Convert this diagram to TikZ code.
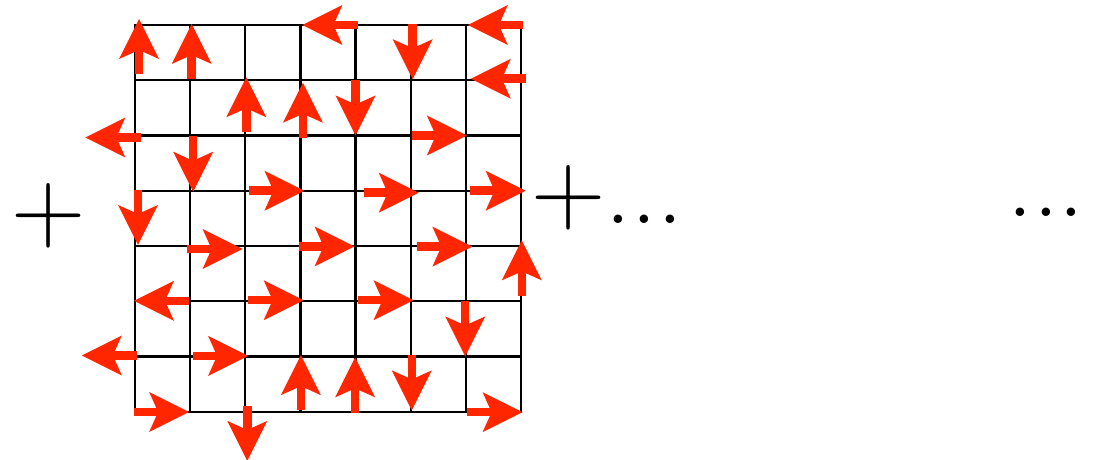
\documentclass[tikz,border=0pt]{standalone}
\usetikzlibrary{arrows.meta,calc}
\definecolor{spinred}{RGB}{255,38,0}
\newcommand\spinarrow[4]{\draw[spin] ($(#1)+(#3,#4)$) -- ($(#2)+(#3,#4)$);}
\begin{document}
\begin{tikzpicture}[x=1pt,y=-1pt,
  gridline/.style={line width=2.2pt, black, line cap=rect},
  spin/.style={line width=8.5pt, spinred, -{Stealth[length=40pt,width=40pt,inset=9pt,line width=0pt]}},
  bigtext/.style={inner sep=0pt, font=\fontsize{103}{110}\selectfont}]
\useasboundingbox (0,0) rectangle (1102,460);
% lattice vertices: columns A..I, rows 0..8
\foreach \c [count=\i from -1] in {A,B,C,D,E,F,G,H,I} {
  \foreach \j in {0,...,8} {
    \coordinate (\c\j) at ({135+55.14*\i},{25+55.24*\j});
  }
}
% grid
\foreach \c in {B,C,D,E,F,G,H,I} \draw[gridline] (\c0) -- (\c7);
\foreach \j in {0,...,7} \draw[gridline] (B\j) -- (I\j);
% spins
\spinarrow{B1}{B0}{4}{-6}
\spinarrow{C1}{C0}{1.5}{-1}
\spinarrow{F0}{E0}{2}{0}
\spinarrow{G0}{G1}{2}{-1}
\spinarrow{I0}{H0}{2}{0}
\spinarrow{I1}{H1}{5}{-1.5}
\spinarrow{D2}{D1}{1}{-3}
\spinarrow{E2}{E1}{2.5}{2.5}
\spinarrow{F1}{F2}{0}{0}
\spinarrow{B2}{A2}{5.5}{2}
\spinarrow{C2}{C3}{3}{1}
\spinarrow{G2}{H2}{1}{0}
\spinarrow{D3}{E3}{4}{0}
\spinarrow{F3}{G3}{8}{2}
\spinarrow{H3}{I3}{4.6}{0}
\spinarrow{B3}{B4}{3}{-1}
\spinarrow{C4}{D4}{-2.7}{3}
\spinarrow{E4}{F4}{-1}{0.5}
\spinarrow{G4}{H4}{6.5}{0.7}
\spinarrow{I5}{I4}{0.8}{-5.6}
\spinarrow{C5}{B5}{-1}{-0.4}
\spinarrow{D5}{E5}{3.2}{-1}
\spinarrow{F5}{G5}{2.8}{-1}
\spinarrow{H5}{H6}{-0.6}{0}
\spinarrow{B6}{A6}{2}{-1}
\spinarrow{C6}{D6}{2.8}{-0.6}
\spinarrow{E7}{E6}{0.4}{-1.3}
\spinarrow{F7}{F6}{-0.4}{0.9}
\spinarrow{G6}{G7}{1.1}{-1.3}
\spinarrow{B7}{C7}{-1}{0.3}
\spinarrow{H7}{I7}{1.6}{0.5}
\spinarrow{D7}{D8}{2}{-6}
% text
\node[bigtext] (plusL) at (48.5,216) {+};
\node[bigtext, anchor=base west] (plusR) at (531.5,223.6) {+...};
\node[bigtext] (dotsR) at (1046,212) {...};
\end{tikzpicture}
\end{document}
